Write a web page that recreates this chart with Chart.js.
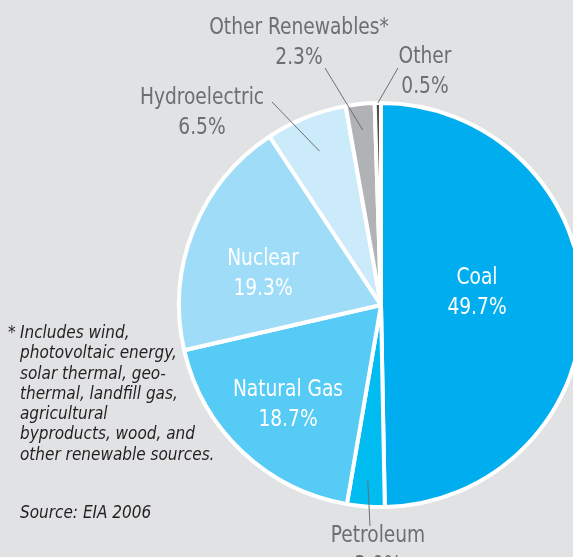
<!DOCTYPE html>
<html>
<head>
<meta charset="utf-8">
<script src="https://cdn.jsdelivr.net/npm/chart.js@4"></script>
<style>
  html, body { margin: 0; padding: 0; background: #e1e2e4; overflow: hidden; }
  #wrap { position: absolute; left: 0; top: 0; width: 600px; height: 557px; }
  .note {
    position: absolute;
    font-family: "Liberation Sans Narrow", "DejaVu Sans Condensed", sans-serif;
    font-style: italic;
    font-size: 17px;
    line-height: 20.3px;
    color: #231f20;
  }
</style>
</head>
<body>
<div id="wrap"><canvas id="myChart"></canvas></div>
<div class="note" style="left:8px; top:322px;">*</div>
<div class="note" style="left:20px; top:322px;">Includes wind,<br>photovoltaic energy,<br>solar thermal, geo-<br>thermal, landfill gas,<br>agricultural<br>byproducts, wood, and<br>other renewable sources.</div>
<div class="note" style="left:20px; top:502px;">Source: EIA 2006</div>
<script>
const sources = ['Coal', 'Petroleum', 'Natural Gas', 'Nuclear', 'Hydroelectric', 'Other Renewables*', 'Other'];
const shares = [49.7, 3.0, 18.7, 19.3, 6.5, 2.3, 0.5]; // percent of generation
const colors = ['#00aeef', '#00bcf1', '#56cbf5', '#9fdcf8', '#cbeafa', '#b1b2b5', '#505053'];

// label placement, offsets from the pie centre
// inside: white text in the slice; outside: grey text with a leader line
const labelSpots = [
    { at: [96, -12], inside: true },
    { at: [-3, 246], from: 0.87, to: [-11, 221] },
    { at: [-93, 100], inside: true },
    { at: [-118, -31], inside: true },
    { at: [-179, -192], from: 0.82, to: [-109, -203] },
    { at: [-82, -262], from: 0.87, to: [-56, -237] },
    { at: [44, -233], from: 1.0, to: [17, -237] }
];

// narrow text: draw squeezed horizontally
function narrowText(ctx, text, x, y) {
    ctx.save();
    ctx.translate(x, y);
    ctx.scale(0.9, 1);
    ctx.fillText(text, 0, 0);
    ctx.restore();
}

const sliceLabels = {
    id: 'sliceLabels',
    afterDatasetsDraw(chart) {
        const ctx = chart.ctx;
        const arcs = chart.getDatasetMeta(0).data;
        ctx.save();
        ctx.font = '23px "Liberation Sans Narrow", "DejaVu Sans Condensed", sans-serif';
        ctx.textAlign = 'center';
        ctx.textBaseline = 'middle';
        arcs.forEach((arc, i) => {
            const p = arc.getProps(['x', 'y', 'startAngle', 'endAngle', 'outerRadius'], true);
            const spot = labelSpots[i];
            const tx = p.x + spot.at[0];
            const ty = p.y + spot.at[1];
            if (!spot.inside) {
                const mid = (p.startAngle + p.endAngle) / 2;
                const r = p.outerRadius * spot.from;
                ctx.strokeStyle = '#6d6e71';
                ctx.lineWidth = 1;
                ctx.beginPath();
                ctx.moveTo(p.x + Math.cos(mid) * r, p.y + Math.sin(mid) * r);
                ctx.lineTo(p.x + spot.to[0], p.y + spot.to[1]);
                ctx.stroke();
            }
            ctx.fillStyle = spot.inside ? '#ffffff' : '#6d6e71';
            narrowText(ctx, sources[i], tx, ty - 15);
            narrowText(ctx, shares[i].toFixed(1) + '%', tx, ty + 15);
        });
        ctx.restore();
    }
};

const ctx = document.getElementById('myChart').getContext('2d');

new Chart(ctx, {
    type: 'pie',
    data: {
        labels: sources,
        datasets: [{
            data: shares,
            backgroundColor: colors,
            borderColor: '#ffffff',
            borderWidth: 4
        }]
    },
    options: {
        responsive: true,
        maintainAspectRatio: false,
        animation: false,
        layout: { padding: { left: 177, right: 15, top: 101, bottom: 48 } },
        plugins: {
            legend: { display: false },
            tooltip: { enabled: false }
        }
    },
    plugins: [sliceLabels]
});
</script>
</body>
</html>
